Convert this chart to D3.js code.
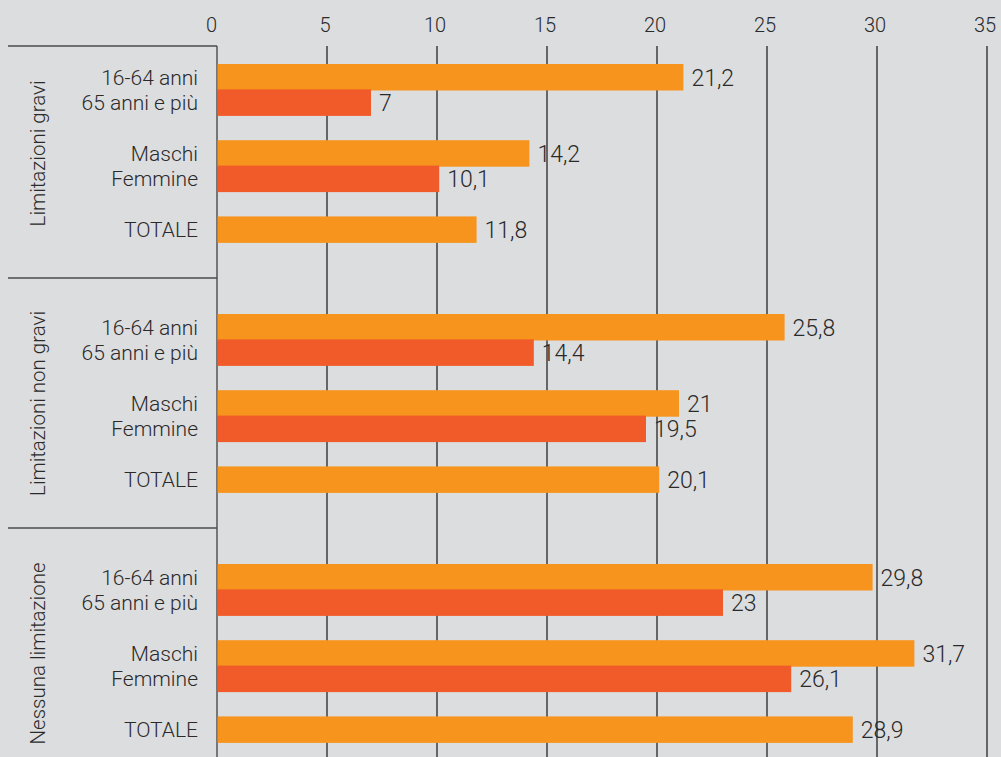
<!DOCTYPE html>
<html>
<head>
<meta charset="utf-8">
<script src="https://cdn.jsdelivr.net/npm/d3@7"></script>
<style>
  html, body { margin: 0; padding: 0; background: #dcdddf; }
  svg { display: block; }
  text { font-family: Roboto, "Noto Sans", sans-serif; fill: #2a2a2a; }
</style>
</head>
<body>
<svg id="chart" width="1001" height="757"></svg>
<script>
const groups = ["Limitazioni gravi", "Limitazioni non gravi", "Nessuna limitazione"];
const categories = ["16-64 anni", "65 anni e più", "Maschi", "Femmine", "TOTALE"];
const limitazioniGravi = [21.2, 7, 14.2, 10.1, 11.8];
const limitazioniNonGravi = [25.8, 14.4, 21, 19.5, 20.1];
const nessunaLimitazione = [29.8, 23, 31.7, 26.1, 28.9];
const tickValues = [0, 5, 10, 15, 20, 25, 30, 35];
const categoryColors = ["#f7941e", "#f15a29", "#f7941e", "#f15a29", "#f7941e"];

const seriesByGroup = [limitazioniGravi, limitazioniNonGravi, nessunaLimitazione];
const slotOf = [0, 1, 3, 4, 6];

const svg = d3.select("#chart");
const W = 1001, H = 757;
const axisTop = 46;

const x = d3.scaleLinear().domain([0, 35]).range([217, 987]);
const gY = d3.scaleBand().domain(groups).range([64, 814]).paddingInner(0).paddingOuter(0);
const sY = d3.scaleLinear().domain([0, 6]).range([0, 152.4]);
const barH = 26.5;

const rows = [];
groups.forEach((g, gi) => {
  categories.forEach((c, ci) => {
    rows.push({ group: g, gi, cat: c, ci, value: seriesByGroup[gi][ci], y: gY(g) + sY(slotOf[ci]) });
  });
});

// Gridlines
const grid = svg.append("g");
grid.selectAll("line").data(tickValues).join("line")
  .attr("x1", d => x(d)).attr("x2", d => x(d))
  .attr("y1", axisTop).attr("y2", H)
  .attr("stroke", d => d === 0 ? "#4a4a4a" : "#333")
  .attr("stroke-width", 1.4);

// Tick labels
svg.append("g").selectAll("text").data(tickValues).join("text")
  .attr("x", d => d === 0 ? x(d) : x(d) - 2)
  .attr("y", 32)
  .attr("text-anchor", d => d === 0 ? "end" : "middle")
  .attr("font-size", 20)
  .attr("font-weight", 300)
  .text(d => d);

// Separators
const sepYs = groups.map((g, i) => i === 0 ? axisTop : gY(g) - 36);
svg.append("g").selectAll("line").data(sepYs).join("line")
  .attr("x1", 8).attr("x2", x(0))
  .attr("y1", d => d).attr("y2", d => d)
  .attr("stroke", "#4a4a4a").attr("stroke-width", 1.4);

// Bars
svg.append("g").selectAll("rect").data(rows).join("rect")
  .attr("x", x(0) + 0.6)
  .attr("y", d => d.y)
  .attr("width", d => x(d.value) - x(0) - 0.6)
  .attr("height", barH)
  .attr("fill", d => categoryColors[d.ci]);

// Value labels
const fmt = v => String(v).replace(".", ",");
svg.append("g").selectAll("text").data(rows).join("text")
  .attr("x", d => x(d.value) + 8)
  .attr("y", d => d.y + barH / 2)
  .attr("dy", "0.36em")
  .attr("font-size", 23)
  .attr("font-weight", 300)
  .text(d => fmt(d.value));

// Category labels
svg.append("g").selectAll("text").data(rows).join("text")
  .attr("x", 198)
  .attr("y", d => d.y + barH / 2)
  .attr("dy", "0.36em")
  .attr("text-anchor", "end")
  .attr("font-size", 21)
  .attr("font-weight", 300)
  .text(d => d.cat);

// Group labels
svg.append("g").selectAll("text").data(groups).join("text")
  .attr("transform", g => `translate(45, ${gY(g) + (sY(6) + barH) / 2}) rotate(-90)`)
  .attr("text-anchor", "middle")
  .attr("font-size", 20.5)
  .attr("font-weight", 300)
  .text(g => g);
</script>
</body>
</html>
